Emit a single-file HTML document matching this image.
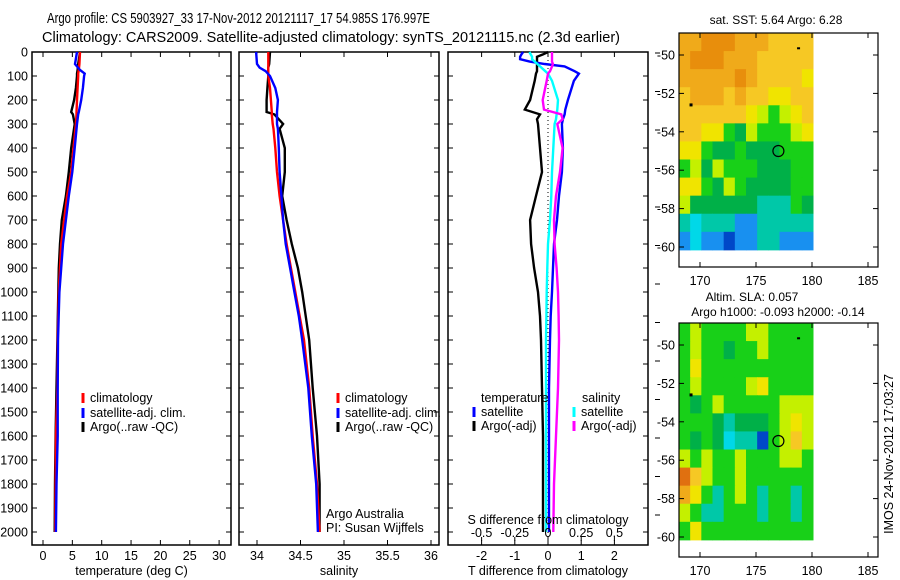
<!DOCTYPE html>
<html><head><meta charset="utf-8"><style>
body{margin:0;background:#fff;}
svg{display:block;font-family:"Liberation Sans",sans-serif;}
</style></head><body>
<svg id="c" width="900" height="580" xmlns="http://www.w3.org/2000/svg">
<text x="47" y="23" font-size="14.5" textLength="383" lengthAdjust="spacingAndGlyphs">Argo profile: CS 5903927_33 17-Nov-2012 20121117_17 54.985S 176.997E</text>
<text x="42" y="42" font-size="14.5" textLength="578" lengthAdjust="spacingAndGlyphs">Climatology: CARS2009. Satellite-adjusted climatology: synTS_20121115.nc (2.3d earlier)</text>
</svg>
<script>
// ---- data ----
const tDepth=[0,50,75,90,100,150,200,250,260,300,400,500,600,700,800,900,1000,1200,1400,1600,1800,2000];
const tClim=[6.3,6.2,6.1,6.0,6.0,5.9,5.8,5.7,5.7,5.6,5.2,4.8,4.1,3.6,3.1,2.9,2.7,2.5,2.45,2.2,2.15,2.1];
const tSat=[5.8,5.45,6.3,7.1,7.0,6.8,6.5,6.1,6.0,5.8,5.4,5.0,4.4,3.9,3.4,3.1,2.8,2.55,2.5,2.5,2.3,2.2];
const tArgo=[6.3,6.0,5.9,5.8,5.8,5.6,5.3,4.8,5.1,5.4,4.8,4.4,3.9,3.2,2.9,2.7,2.6,2.45,2.3,2.15,2.05,2.0];
const sDepth=[0,50,65,80,100,150,200,250,260,300,320,400,500,600,700,800,900,1000,1100,1200,1400,1600,1800,2000];
const sClim=[34.13,34.13,34.13,34.13,34.13,34.15,34.16,34.17,34.17,34.18,34.19,34.21,34.23,34.26,34.30,34.34,34.39,34.44,34.49,34.54,34.60,34.64,34.69,34.72];
const sSat=[33.99,34.0,34.03,34.10,34.15,34.21,34.24,34.23,34.23,34.23,34.24,34.25,34.26,34.28,34.30,34.33,34.38,34.43,34.48,34.52,34.59,34.63,34.68,34.70];
const sArgo=[34.15,34.14,34.13,34.13,34.13,34.12,34.11,34.11,34.2,34.30,34.26,34.32,34.32,34.29,34.34,34.40,34.47,34.52,34.56,34.60,34.64,34.69,34.72,34.72];
const dDepth=[0,10,20,30,40,50,60,80,90,120,200,240,260,280,300,400,500,600,700,800,900,1000,1100,1200,1400,1600,1800,2000];
const dTArgo=[0,-0.15,-0.33,-0.33,-0.33,-0.33,-0.33,-0.33,-0.36,-0.4,-0.54,-0.7,-0.24,-0.33,-0.3,-0.24,-0.18,-0.36,-0.54,-0.51,-0.42,-0.3,-0.24,-0.21,-0.18,-0.15,-0.15,-0.15];
const dTSat=[-0.75,-0.8,-0.84,-0.84,-0.55,-0.1,0.5,0.8,0.93,0.78,0.6,0.52,0.5,0.45,0.42,0.45,0.42,0.33,0.27,0.18,0.15,0.12,0.08,0.06,0.03,0.03,0.03,0.03];
const dSSat=[-0.14,-0.13,-0.12,-0.12,-0.1,-0.08,-0.06,-0.02,0.0,0.03,0.075,0.07,0.065,0.06,0.05,0.04,0.03,0.025,0.015,0.0,-0.005,-0.01,-0.012,-0.015,-0.015,-0.015,-0.015,-0.015];
const dSArgo=[0.03,0.03,0.03,0.03,0.03,0.037,0.03,0.015,0.0,-0.01,-0.04,-0.03,0.1,0.11,0.07,0.11,0.09,0.06,0.045,0.05,0.065,0.075,0.08,0.083,0.075,0.06,0.045,0.04];
const depthTicks=[0,100,200,300,400,500,600,700,800,900,1000,1100,1200,1300,1400,1500,1600,1700,1800,1900,2000];
const tTicks=[0,5,10,15,20,25,30];
const sTicks=[34,34.5,35,35.5,36];
const sLabels=["34","34.5","35","35.5","36"];
const dTTicks=[-2,-1,0,1,2];
const dSTicks=[-0.5,-0.25,0,0.25,0.5];
const dSLabels=["-0.5","-0.25","0","0.25","0.5"];
const lonTicks=[170,175,180,185];
const latTicks=[-50,-52,-54,-56,-58,-60];
// map colour grids (images)
const pal={o:"#e88e0c",O:"#f0aa1a",y:"#f6c824",Y:"#f0e400",L:"#c4f000",G:"#18d018",g:"#00b048",c:"#00c8a8",C:"#00d8e8",b:"#1890f0",B:"#0048c8",r:"#e07010"};
const sstRows=["OOoooOOOyyyy","OoooOOOyyyyy","OOOOOoOyyyyY","yOOOyOyyYYyy","yyyyyyYLGLYy","yyYYGgLGGGLY","YYGggGgggGGG","GLgLGGGgggGG","YYGgLGggggGG","LggggggcccGg","cCcccbbccccc","bCbbBbbccbbb"];
const slaRows=["GLGGGGLLGGGG","GLGGgGGLGGGG","GYGGGGGGGGGG","GLGGGGLYGGGG","GgGLGGGGGLLL","GGGgcgggGLYL","GgGgCccBGLyL","LGLGGLGGGLLG","ryLGGLGGGGGG","OYGcGLGcGGcG","LGccGGGcGGcG","GYGGGGGGGGGG"];
// ---- helpers ----
const svg=document.getElementById('c');
const NS="http://www.w3.org/2000/svg";
function el(tag,attrs,parent){const e=document.createElementNS(NS,tag);for(const k in attrs)e.setAttribute(k,attrs[k]);(parent||svg).appendChild(e);return e;}
function txt(x,y,s,size,anchor,parent){const t=el('text',{x:x,y:y,'font-size':size,'text-anchor':anchor||'start'},parent);t.textContent=s;return t;}
const yTop=52,pxPer100=24;
function yD(d){return yTop+d*pxPer100/100;}
const yBot=545;
function panel(name,x0,x1,xf,ticks,labels,xtitle,showY){
  const g=el('g',{});
  
  
  el('rect',{x:x0,y:yTop,width:x1-x0,height:yBot-yTop,fill:'none',stroke:'#000','stroke-width':1.5},g);
  depthTicks.forEach(d=>{const y=yD(d);
    el('line',{x1:x0,x2:x0+5,y1:y,y2:y,stroke:'#000'},g);
    el('line',{x1:x1-5,x2:x1,y1:y,y2:y,stroke:'#000'},g);
    if(showY){const t=txt(x0-4,y+4.5,String(d),12.5,'end',g);}
  });
  ticks.forEach((v,i)=>{const x=xf(v);
    el('line',{x1:x,x2:x,y1:yBot-5,y2:yBot,stroke:'#000'},g);
    el('line',{x1:x,x2:x,y1:yTop,y2:yTop+5,stroke:'#000'},g);
    const t=txt(x,yBot+15,labels[i],12.5,'middle',g);
    
    
  });
  const t=txt((x0+x1)/2,575,xtitle,12.5,'middle',g);
  
  
  return g;
}
function line(name,depths,vals,xf,color,g){
  const pts=depths.map((d,i)=>xf(vals[i]).toFixed(1)+","+yD(d).toFixed(1)).join(" ");
  const p=el('polyline',{points:pts,fill:'none',stroke:color,'stroke-width':2.4,'stroke-linejoin':'miter'},g);
  
  
}
function legend(g,x,y,color,label){
  el('line',{x1:x,x2:x,y1:y-9,y2:y+1,stroke:color,'stroke-width':3},g);
  const t=txt(x+7,y,label,12.5,'start',g);
  
  
}
// ---- panel 1: temperature ----
const xT=v=>43+v*5.87;
const g1=panel('temperature-panel',32,231,xT,tTicks,tTicks.map(String),'temperature (deg C)',true);
line('temp-argo',tDepth,tArgo,xT,'#000',g1);
line('temp-climatology',tDepth,tClim,xT,'#f00',g1);
line('temp-satellite-adj',tDepth,tSat,xT,'#00f',g1);
legend(g1,83,402,'#f00','climatology');legend(g1,83,417,'#00f','satellite-adj. clim.');legend(g1,83,431,'#000','Argo(..raw -QC)');
// ---- panel 2: salinity ----
const xS=v=>257+(v-34)*87;
const g2=panel('salinity-panel',239,439,xS,sTicks,sLabels,'salinity',false);
line('sal-argo',sDepth,sArgo,xS,'#000',g2);
line('sal-climatology',sDepth,sClim,xS,'#f00',g2);
line('sal-satellite-adj',sDepth,sSat,xS,'#00f',g2);
legend(g2,338,402,'#f00','climatology');legend(g2,338,417,'#00f','satellite-adj. clim.');legend(g2,338,431,'#000','Argo(..raw -QC)');
txt(326,518,'Argo Australia',12.5,'start',g2);txt(326,532,'PI: Susan Wijffels',12.5,'start',g2);
// ---- panel 3: differences ----
const xDT=v=>548+v*33.2;
const xDS=v=>548+v*132.8;
const g3=panel('difference-panel',448,648,xDT,dTTicks,dTTicks.map(String),'T difference from climatology',false);
el('line',{x1:548,x2:548,y1:yTop,y2:yBot,stroke:'#000','stroke-dasharray':'1,3'},g3);
line('t-diff-argo',dDepth,dTArgo,xDT,'#000',g3);
line('t-diff-satellite',dDepth,dTSat,xDT,'#00f',g3);
line('s-diff-satellite',dDepth,dSSat,xDS,'#0ff',g3);
line('s-diff-argo',dDepth,dSArgo,xDS,'#f0f',g3);
dSTicks.forEach((v,i)=>{const x=xDS(v);el('line',{x1:x,x2:x,y1:537,y2:541,stroke:'#000'},g3);
  const t=txt(x,537,dSLabels[i],12.5,'middle',g3);});
txt(548,524,'S difference from climatology',12.5,'middle',g3);
txt(481,402,'temperature',12.5,'start',g3);txt(582,402,'salinity',12.5,'start',g3);
legend(g3,474,416,'#00f','satellite');legend(g3,474,430,'#000','Argo(-adj)');
legend(g3,574,416,'#0ff','satellite');legend(g3,574,430,'#f0f','Argo(-adj)');
for(let k=0;k<13;k++){const y=53+38.5*k;el('line',{x1:655,x2:660,y1:y,y2:y,stroke:'#000'},g3);}
// ---- maps ----
const mx0=679,mx1=878;
const xLon=v=>700+(v-170)*11.2;
function map(name,top,rows){
  const g=el('g',{});
  
  
  const yLat=v=>top+22+(-50-v)*19.2;
  const imgTop=top, imgBot=yLat(-60.15);
  const rh=(imgBot-imgTop)/rows.length, cw=(813-mx0)/12;
  rows.forEach((r,i)=>{for(let j=0;j<12;j++){el('rect',{x:mx0+j*cw,y:imgTop+i*rh,width:cw+0.5,height:rh+0.5,fill:pal[r[j]]||pal.G},g);}});
  el('rect',{x:mx0,y:top,width:mx1-mx0,height:234,fill:'none',stroke:'#000','stroke-width':1.2},g);
  lonTicks.forEach(v=>{const x=xLon(v);el('line',{x1:x,x2:x,y1:top,y2:top+5,stroke:'#000'},g);el('line',{x1:x,x2:x,y1:top+229,y2:top+234,stroke:'#000'},g);
    const t=txt(x,top+252,String(v),12.5,'middle',g);});
  latTicks.forEach(v=>{const y=yLat(v);el('line',{x1:mx0,x2:mx0+5,y1:y,y2:y,stroke:'#000'},g);el('line',{x1:mx1-5,x2:mx1,y1:y,y2:y,stroke:'#000'},g);
    const t=txt(mx0-4,y+4.5,String(v),12.5,'end',g);});
  const m=el('circle',{cx:xLon(177),cy:yLat(-55),r:5.5,fill:'none',stroke:'#000','stroke-width':1.2},g);
  
  
  el('rect',{x:xLon(178.8)-1.5,y:yLat(-49.65)-1,width:3,height:2,fill:'#000'},g);
  el('rect',{x:xLon(169.2)-1.5,y:yLat(-52.6)-1.5,width:3,height:3,fill:'#000'},g);
  return g;
}
map('sst-map',33,sstRows);
txt(776,24,'sat. SST: 5.64 Argo: 6.28',12,'middle');
map('sla-map',323,slaRows);
txt(752,301,'Altim. SLA: 0.057',12,'middle');
txt(778,316,'Argo h1000: -0.093 h2000: -0.14',12,'middle');
const v=txt(0,0,'IMOS 24-Nov-2012 17:03:27',12.5,'middle');
v.setAttribute('transform','translate(893,454) rotate(-90)');


</script>
</body></html>
